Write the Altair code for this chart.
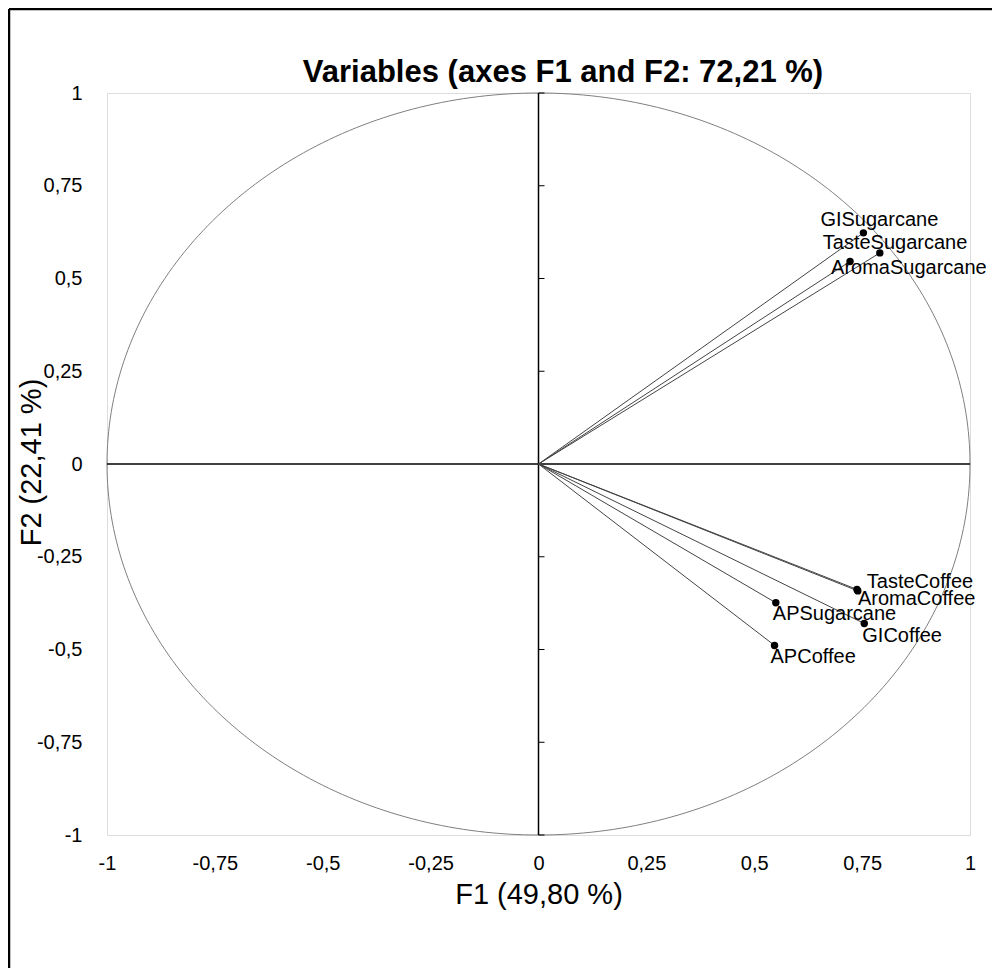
import altair as alt
import pandas as pd
import numpy as np

# ---------------- data ----------------
variables = ["GISugarcane", "TasteSugarcane", "AromaSugarcane", "TasteCoffee",
             "AromaCoffee", "APSugarcane", "GICoffee", "APCoffee"]
f1 = [0.753, 0.791, 0.722, 0.740, 0.738, 0.550, 0.755, 0.547]
f2 = [0.623, 0.569, 0.546, -0.342, -0.338, -0.374, -0.430, -0.489]
tick_values = [-1, -0.75, -0.5, -0.25, 0, 0.25, 0.5, 0.75, 1]
tick_labels = ["-1", "-0,75", "-0,5", "-0,25", "0", "0,25", "0,5", "0,75", "1"]
title_text = "Variables (axes F1 and F2: 72,21 %)"
x_title = "F1 (49,80 %)"
y_title = "F2 (22,41 %)"

# label offsets (style, not data)
label_offsets = {
    "GISugarcane": (-43, -13), "TasteSugarcane": (-57, -10), "AromaSugarcane": (-19, 7),
    "TasteCoffee": (9, -9), "AromaCoffee": (1, 10), "APSugarcane": (-3, 11),
    "GICoffee": (-2, 12), "APCoffee": (-4, 12),
}

FONT = "Liberation Sans"
W, H = 863, 742

df = pd.DataFrame({"var": variables, "f1": f1, "f2": f2})
theta = np.linspace(0, 2 * np.pi, 361)
circle_df = pd.DataFrame({"i": range(361), "cx": np.cos(theta), "cy": np.sin(theta)})
zero_df = pd.DataFrame({"z": [0]})
tick_df = pd.DataFrame({"v": [v for v in tick_values if v != 0]})
title_df = pd.DataFrame({"t": [title_text]})

label_expr = " : ".join(f"datum.value == {v} ? '{l}'" for v, l in zip(tick_values, tick_labels)) + " : ''"

xscale = alt.Scale(domain=[-1, 1], nice=False, zero=False)
yscale = alt.Scale(domain=[-1, 1], nice=False, zero=False)

xaxis = alt.Axis(values=tick_values, labelExpr=label_expr, title=x_title, grid=False,
                 domain=False, ticks=False, labelFont=FONT, labelFontSize=20, labelColor="black",
                 labelPadding=18, labelBaseline="top", labelFlush=False, labelOverlap=False,
                 titleFont=FONT, titleFontSize=29, titleFontWeight="normal", titleColor="black",
                 titleBaseline="alphabetic", titleAlign="center", titleX=W / 2, titleY=68)
yaxis = alt.Axis(values=tick_values, labelExpr=label_expr, title=y_title, grid=False,
                 domain=False, ticks=False, labelFont=FONT, labelFontSize=20, labelColor="black",
                 labelPadding=25, labelAlign="right", labelBaseline="middle", labelFlush=False,
                 labelOverlap=False,
                 titleFont=FONT, titleFontSize=29, titleFontWeight="normal", titleColor="black",
                 titleAngle=270, titleBaseline="alphabetic", titleAlign="center",
                 titleX=-67, titleY=H / 2 - 2)


def X(field):
    return alt.X(field, scale=xscale, axis=xaxis)


def Y(field):
    return alt.Y(field, scale=yscale, axis=yaxis)


circle = alt.Chart(circle_df).mark_line(color="#7f7f7f", strokeWidth=1).encode(
    x=X("cx:Q"), y=Y("cy:Q"), order="i:Q")

vline = alt.Chart(zero_df).mark_rule(color="black", strokeWidth=1.5).encode(x=X("z:Q"))
hline = alt.Chart(zero_df).mark_rule(color="black", strokeWidth=1.5).encode(y=Y("z:Q"))

yticks = alt.Chart(tick_df).transform_calculate(z="0").mark_rule(color="black", strokeWidth=1).encode(
    y=Y("v:Q"), x=X("z:Q"), x2=alt.value(W / 2 + 6))

vectors = alt.Chart(df).transform_calculate(x0="0", y0="0").mark_rule(
    color="#444444", strokeWidth=1).encode(x=X("x0:Q"), y=Y("y0:Q"), x2="f1:Q", y2="f2:Q")

points = alt.Chart(df).mark_circle(size=55, color="black", opacity=1).encode(
    x=X("f1:Q"), y=Y("f2:Q"))

label_layers = []
for name, (dx, dy) in label_offsets.items():
    label_layers.append(
        alt.Chart(df).transform_filter(alt.datum["var"] == name).mark_text(
            font=FONT, fontSize=20, color="black", align="left", baseline="middle", dx=dx, dy=dy
        ).encode(x=X("f1:Q"), y=Y("f2:Q"), text="var:N")
    )

title = alt.Chart(title_df).mark_text(font=FONT, fontSize=31, fontWeight="bold", color="black",
                                      align="center", baseline="alphabetic").encode(
    text="t:N", x=alt.value(456), y=alt.value(-11))

border_left = alt.Chart(zero_df).mark_rule(color="black", strokeWidth=2.5).encode(
    x=alt.value(-98), y=alt.value(-84), y2=alt.value(875))
border_top = alt.Chart(zero_df).mark_rule(color="black", strokeWidth=2.5).encode(
    x=alt.value(-98), x2=alt.value(885), y=alt.value(-84))

chart = alt.layer(circle, vline, hline, yticks, vectors, points, *label_layers, title,
                  border_left, border_top).properties(
    width=W, height=H,
    autosize=alt.AutoSizeParams(type="none"),
    padding={"left": 99, "top": 85, "right": 22, "bottom": 133},
).configure_view(stroke="#c0c0c0", strokeWidth=1).configure(background="white")

chart.save("out.html", embed_options={"renderer": "svg", "actions": False})
